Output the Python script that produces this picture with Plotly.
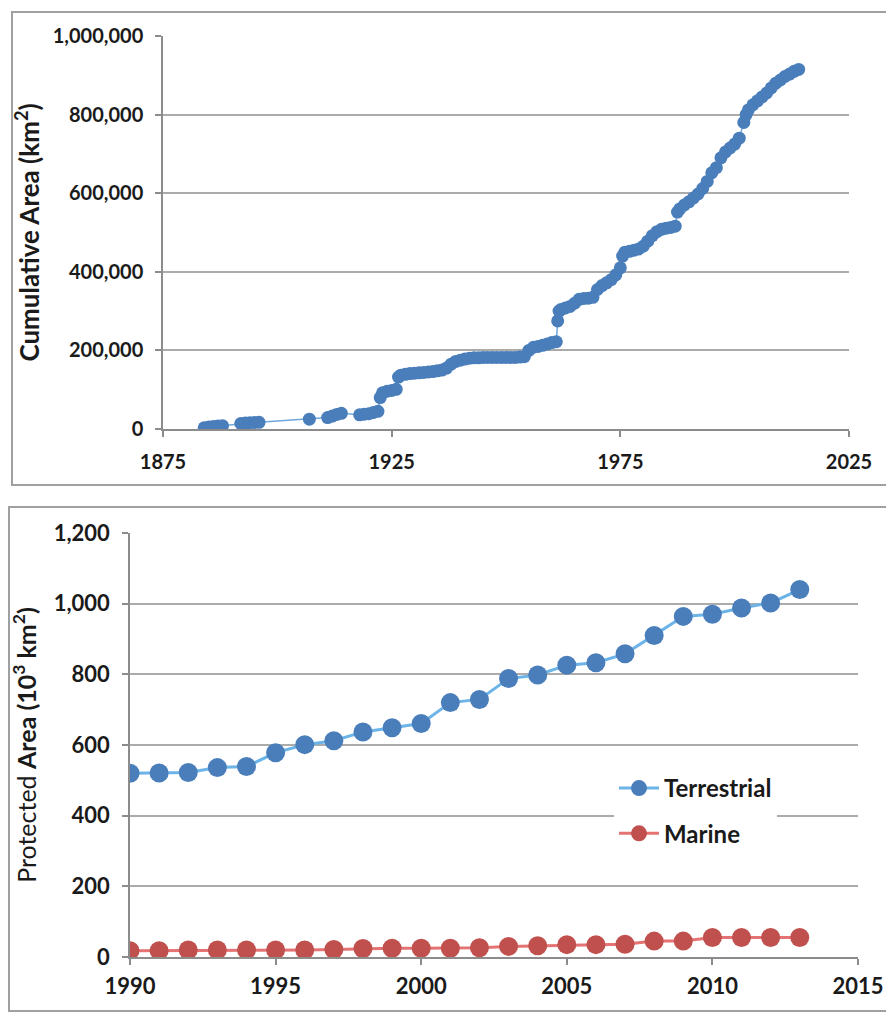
import plotly.graph_objects as go

# top panel: cumulative protected area by year of designation
cum_years = [
    1884, 1885, 1886, 1887, 1888, 1892, 1893, 1894, 1895, 1896, 1907,
    1911, 1912, 1913, 1914, 1918, 1919, 1920, 1921, 1922, 1922.5, 1923,
    1924, 1925, 1926, 1926.5, 1927, 1928, 1929, 1930, 1931, 1932, 1933,
    1934, 1935, 1936, 1937, 1938, 1939, 1940, 1941, 1942, 1943, 1944,
    1945, 1946, 1947, 1948, 1949, 1950, 1951, 1952, 1953, 1954, 1955,
    1956, 1957, 1958, 1959, 1960, 1961, 1961.3, 1961.6, 1962, 1963, 1964,
    1965, 1966, 1967, 1968, 1969, 1970, 1971, 1972, 1973, 1974, 1975,
    1975.5, 1976, 1977, 1978, 1979, 1980, 1981, 1982, 1983, 1984, 1985,
    1986, 1987, 1987.5, 1988, 1989, 1990, 1991, 1992, 1993, 1994, 1995,
    1996, 1997, 1998, 1999, 2000, 2001, 2002, 2002.5, 2003, 2004, 2005,
    2006, 2007, 2008, 2009, 2010, 2011, 2012, 2013, 2014,
]
cum_area = [
    3000, 5000, 6500, 7500, 8500, 14000, 15000, 16000, 16500, 17000, 25000,
    29000, 33000, 37000, 40000, 36000, 37500, 39000, 42000, 45000, 80000, 92000,
    96000, 98000, 101000, 132000, 137000, 139000, 141000, 142000, 143000, 144000, 145000,
    146000, 148000, 150000, 155000, 165000, 172000, 175000, 178000, 180000, 181000, 181000,
    182000, 182000, 182000, 182000, 182000, 182000, 182000, 182000, 183000, 184000, 200000,
    208000, 210000, 213000, 216000, 220000, 222000, 275000, 300000, 304000, 308000, 312000,
    320000, 330000, 332000, 333000, 335000, 355000, 365000, 372000, 380000, 392000, 410000,
    440000, 450000, 452000, 455000, 458000, 465000, 478000, 492000, 502000, 508000, 511000,
    513000, 516000, 552000, 560000, 570000, 578000, 588000, 598000, 612000, 630000, 652000,
    665000, 690000, 705000, 715000, 725000, 740000, 780000, 800000, 812000, 825000, 835000,
    845000, 855000, 868000, 880000, 888000, 897000, 903000, 910000, 915000,
]

# bottom panel: protected area per year (10^3 km2)
years = list(range(1990, 2014))
terrestrial = [520, 521, 522, 536, 539, 578, 601, 612, 637, 649, 661, 720,
               729, 788, 798, 826, 833, 858, 910, 964, 970, 988, 1002, 1040]
marine = [18, 18, 20, 20, 20, 20, 20, 21, 24, 25, 25, 25,
          26, 30, 32, 35, 35, 36, 45, 45, 55, 55, 55, 55]

W, H = 894, 1013
PAGE_OFF = 8  # default body margin of the html page
FONT = "Lato, 'Open Sans', sans-serif"
GRID = "#ABABAB"
AXIS = "#8C8C8C"


def px_x(x):
    return (x - PAGE_OFF) / W


def px_y(y):
    return 1 - (y - PAGE_OFF) / H


fig = go.Figure()

fig.add_trace(go.Scatter(
    x=cum_years, y=cum_area, mode="lines+markers", showlegend=False,
    line=dict(color="#6FA8DC", width=1.5),
    marker=dict(color="#4A7EBB", size=13),
    xaxis="x", yaxis="y",
))
fig.add_trace(go.Scatter(
    x=years, y=terrestrial, mode="lines+markers", name="Terrestrial",
    legendgroup="t",
    line=dict(color="#6CB4E8", width=3),
    marker=dict(color="#4A7EBB", size=19),
    xaxis="x2", yaxis="y2",
))
fig.add_trace(go.Scatter(
    x=years, y=marine, mode="lines+markers", name="Marine",
    legendgroup="m",
    line=dict(color="#E57373", width=3),
    marker=dict(color="#C0504D", size=19),
    xaxis="x2", yaxis="y2",
))


def tfont(size):
    return dict(family=FONT, size=size, color="#1a1a1a", weight="bold")


common = dict(
    showline=True, linecolor=AXIS, linewidth=1.5,
    ticks="outside", tickcolor=AXIS, ticklen=6, tickwidth=1.5,
    zeroline=False, automargin=False,
)

fig.update_layout(
    width=W, height=H,
    margin=dict(l=0, r=0, t=0, b=0),
    paper_bgcolor="white", plot_bgcolor="white",
    font=dict(family=FONT, color="#1a1a1a"),
    xaxis=dict(
        domain=[px_x(163), px_x(849)], range=[1875, 2025],
        tickvals=[1875, 1925, 1975, 2025], showgrid=False,
        tickfont=tfont(20), ticklabelstandoff=8, anchor="y", **common,
    ),
    yaxis=dict(
        domain=[px_y(429), px_y(36)], range=[0, 1000000],
        dtick=200000, tickformat=",d", showgrid=True,
        gridcolor=GRID, gridwidth=1.5, tickfont=tfont(20),
        ticklabelstandoff=8, anchor="x",
        title=dict(text="<b>Cumulative Area (km<sup>2</sup>)</b>",
                   font=dict(family=FONT, size=26, color="#1a1a1a"),
                   standoff=6),
        **common,
    ),
    xaxis2=dict(
        domain=[px_x(130), px_x(858)], range=[1990, 2015],
        dtick=5, showgrid=False, tickfont=tfont(22),
        ticklabelstandoff=3, anchor="y2", **common,
    ),
    yaxis2=dict(
        domain=[px_y(957), px_y(533)], range=[0, 1200],
        dtick=200, tickformat=",d", showgrid=True,
        gridcolor=GRID, gridwidth=1.5, tickfont=tfont(22),
        ticklabelstandoff=8, anchor="x2",
        title=dict(text="Protected <b>Area (10<sup>3</sup> km<sup>2</sup>)</b>",
                   font=dict(family=FONT, size=25, color="#1a1a1a"),
                   standoff=13),
        **common,
    ),
    legend=dict(
        x=px_x(614), y=px_y(766), xanchor="left", yanchor="top",
        bgcolor="white", borderwidth=0,
        font=tfont(24),
        tracegroupgap=11, itemwidth=40,
    ),
    shapes=[
        dict(type="rect", xref="paper", yref="paper",
             x0=px_x(12), x1=px_x(890), y0=px_y(485), y1=px_y(12),
             line=dict(color="#A0A0A0", width=2)),
        dict(type="rect", xref="paper", yref="paper",
             x0=px_x(9), x1=px_x(890), y0=px_y(1011), y1=px_y(507),
             line=dict(color="#A0A0A0", width=2)),
    ],
)

fig.write_html("out.html")
